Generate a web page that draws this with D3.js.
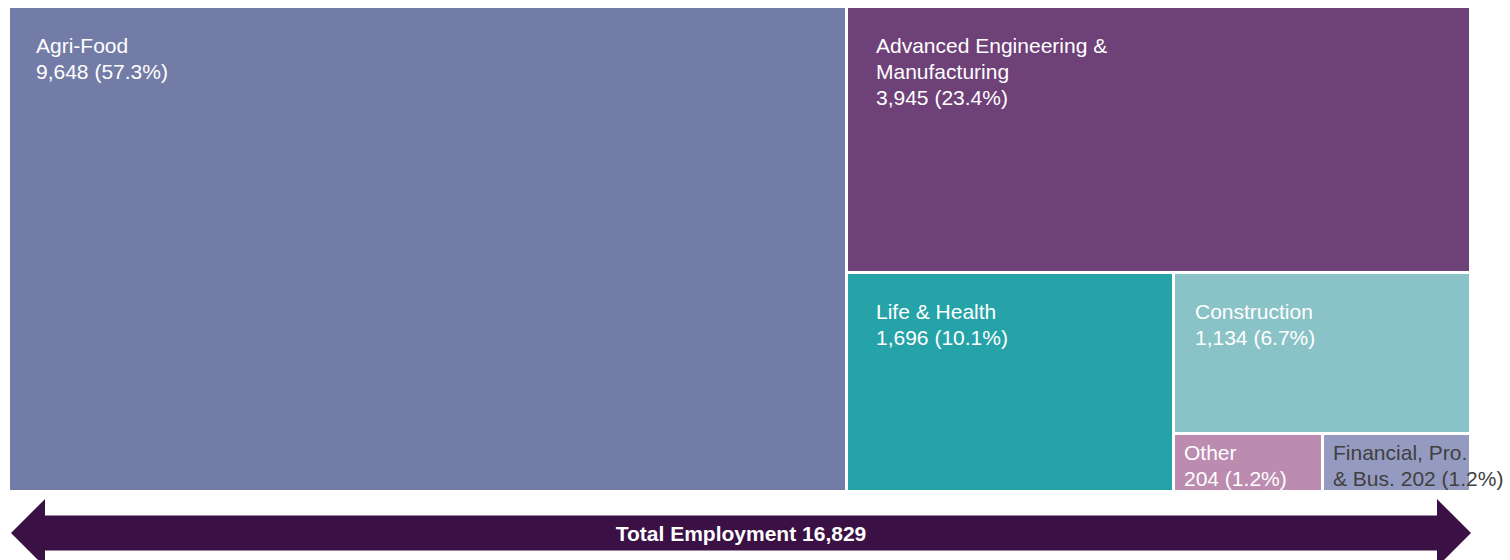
<!DOCTYPE html>
<html>
<head>
<meta charset="utf-8">
<script src="https://cdn.jsdelivr.net/npm/d3@7"></script>
<style>
  html, body { margin: 0; padding: 0; background: #ffffff; }
  svg { display: block; }
  text { font-family: "Liberation Sans", Arial, sans-serif; }
</style>
</head>
<body>
<svg id="chart" width="1510" height="560"></svg>
<script>
// ---- data ----
const categories = ["Agri-Food", "Advanced Engineering & Manufacturing", "Life & Health", "Construction", "Other", "Financial, Pro. & Bus."];
const values = [9648, 3945, 1696, 1134, 204, 202];
const labelLines = [["Agri-Food"], ["Advanced Engineering &", "Manufacturing"], ["Life & Health"], ["Construction"], ["Other"], ["Financial, Pro."]];
const valuePrefix = ["", "", "", "", "", "& Bus. "];
const totalLabel = "Total Employment";

// ---- styles ----
const colors = ["#737ca6", "#6e4178", "#26a3a8", "#8ac3c7", "#bb8bb0", "#959bc0"];
const textColors = ["#ffffff", "#ffffff", "#ffffff", "#ffffff", "#ffffff", "#404040"];

const W = 1510, H = 560;
const svg = d3.select("#chart");
const total = d3.sum(values);
const fmt = d3.format(",");
const pct = d3.format(".1%");

// nested hierarchy: alternating dice / slice
function build(i) {
  const leaf = k => ({ name: categories[k], value: values[k], idx: k });
  if (i === categories.length - 2) return { children: [leaf(i), leaf(i + 1)] };
  return { children: [leaf(i), build(i + 1)] };
}
const root = d3.hierarchy(build(0)).sum(d => d.value || 0);
d3.treemap()
  .tile(d3.treemapSliceDice)
  .size([1469 - 10, 490 - 8])
  .paddingInner(3)
  .round(true)(root);

const g = svg.append("g").attr("transform", "translate(10,8)");
const leaves = root.leaves();

g.selectAll("rect.cell")
  .data(leaves)
  .join("rect")
  .attr("class", "cell")
  .attr("x", d => d.x0)
  .attr("y", d => d.y0)
  .attr("width", d => d.x1 - d.x0)
  .attr("height", d => d.y1 - d.y0)
  .attr("fill", d => colors[d.data.idx]);

const lineH = 26;
leaves.forEach(d => {
  const i = d.data.idx;
  const w = d.x1 - d.x0, h = d.y1 - d.y0;
  const small = h < 100;
  const padX = small ? (w < 150 ? 9 : 12) : (w < 310 ? 20 : (w > 700 ? 26 : 28));
  const padY = small ? 25 : 45;
  const lines = labelLines[i].slice();
  lines.push(valuePrefix[i] + fmt(values[i]) + " (" + pct(values[i] / total) + ")");
  const t = g.append("text")
    .attr("x", d.x0 + padX)
    .attr("y", d.y0 + padY)
    .attr("fill", textColors[i])
    .attr("font-size", 21);
  lines.forEach((ln, k) => {
    t.append("tspan").attr("x", d.x0 + padX).attr("y", d.y0 + padY + k * lineH).text(ln);
  });
});

// ---- total arrow ----
const ax = d3.scaleLinear().domain([0, 1]).range([11, 1471]);
const cy = 533, headLen = 34, headHalf = 34, shaftHalf = 17.5;
const x0 = ax(0), x1 = ax(1);
const arrow = d3.path();
arrow.moveTo(x0, cy);
arrow.lineTo(x0 + headLen, cy - headHalf);
arrow.lineTo(x0 + headLen, cy - shaftHalf);
arrow.lineTo(x1 - headLen, cy - shaftHalf);
arrow.lineTo(x1 - headLen, cy - headHalf);
arrow.lineTo(x1, cy);
arrow.lineTo(x1 - headLen, cy + headHalf);
arrow.lineTo(x1 - headLen, cy + shaftHalf);
arrow.lineTo(x0 + headLen, cy + shaftHalf);
arrow.lineTo(x0 + headLen, cy + headHalf);
arrow.closePath();
svg.append("path").attr("d", arrow.toString()).attr("fill", "#3a1045");

svg.append("text")
  .attr("x", ax(0.5))
  .attr("y", cy)
  .attr("dy", "0.36em")
  .attr("text-anchor", "middle")
  .attr("fill", "#ffffff")
  .attr("font-weight", "bold")
  .attr("font-size", 21)
  .text(totalLabel + " " + fmt(total));
</script>
</body>
</html>
